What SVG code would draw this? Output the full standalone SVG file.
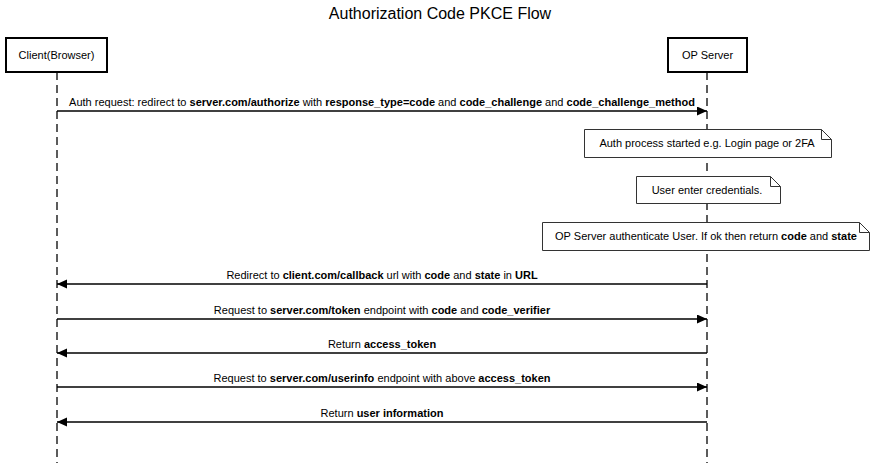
<svg xmlns="http://www.w3.org/2000/svg" width="880" height="463" viewBox="0 0 880 463">
<style>
text{font-family:"Liberation Sans",Arial,sans-serif;font-size:11px;fill:#000;text-anchor:middle}
.title{font-size:16px}
.b{font-weight:bold}
.actor{fill:#fff;stroke:#000;stroke-width:2}
.life{stroke:#333;stroke-width:1.6;stroke-dasharray:8,5;fill:none}
.msg{stroke:#000;stroke-width:1.3;fill:none}
.note{fill:#fff;stroke:#333;stroke-width:1}
</style>
<defs>
<marker id="ah" markerUnits="userSpaceOnUse" markerWidth="11" markerHeight="10" refX="10" refY="4.5" orient="auto">
<path d="M0,0 L10,4.5 L0,9 z" fill="#000"/>
</marker>
</defs>
<rect width="880" height="463" fill="#fff"/>
<text class="title" x="440" y="19">Authorization Code PKCE Flow</text>
<g id="lifelines">
<line class="life" x1="57" y1="72" x2="57" y2="463"/>
<line class="life" x1="707" y1="72" x2="707" y2="463"/>
</g>
<g id="client">
<rect class="actor" x="6" y="38" width="101" height="34"/>
<text x="56.5" y="59">Client(Browser)</text>
</g>
<g id="server">
<rect class="actor" x="668" y="38" width="79" height="34"/>
<text x="707.5" y="59">OP Server</text>
</g>
<g id="note1">
<path class="note" d="M584.5,129.5 H821.5 L831.5,139.5 V157.5 H584.5 Z M821.5,129.5 V139.5 H831.5"/>
<text x="707" y="147">Auth process started e.g. Login page or 2FA</text>
</g>
<g id="note2">
<path class="note" d="M636.5,176.5 H770.5 L780.5,186.5 V203.5 H636.5 Z M770.5,176.5 V186.5 H780.5"/>
<text x="707" y="193.5">User enter credentials.</text>
</g>
<g id="note3">
<path class="note" d="M542.5,222.5 H859.5 L869.5,232.5 V250.5 H542.5 Z M859.5,222.5 V232.5 H869.5"/>
<text x="706" y="240">OP Server authenticate User. If ok then return <tspan class="b">code</tspan> and <tspan class="b">state</tspan></text>
</g>
<g id="connectors">
<line class="msg" x1="57" y1="111" x2="707" y2="111" marker-end="url(#ah)"/>
<text x="382" y="106">Auth request: redirect to <tspan class="b">server.com/authorize</tspan> with <tspan class="b">response_type=code</tspan> and <tspan class="b">code_challenge</tspan> and <tspan class="b">code_challenge_method</tspan></text>
<line class="msg" x1="707" y1="284" x2="57" y2="284" marker-end="url(#ah)"/>
<text x="382" y="279">Redirect to <tspan class="b">client.com/callback</tspan> url with <tspan class="b">code</tspan> and <tspan class="b">state</tspan> in <tspan class="b">URL</tspan></text>
<line class="msg" x1="57" y1="319" x2="707" y2="319" marker-end="url(#ah)"/>
<text x="382" y="314">Request to <tspan class="b">server.com/token</tspan> endpoint with <tspan class="b">code</tspan> and <tspan class="b">code_verifier</tspan></text>
<line class="msg" x1="707" y1="353" x2="57" y2="353" marker-end="url(#ah)"/>
<text x="382" y="348">Return <tspan class="b">access_token</tspan></text>
<line class="msg" x1="57" y1="387" x2="707" y2="387" marker-end="url(#ah)"/>
<text x="382" y="382">Request to <tspan class="b">server.com/userinfo</tspan> endpoint with above <tspan class="b">access_token</tspan></text>
<line class="msg" x1="707" y1="422" x2="57" y2="422" marker-end="url(#ah)"/>
<text x="382" y="417">Return <tspan class="b">user information</tspan></text>
</g>
</svg>
